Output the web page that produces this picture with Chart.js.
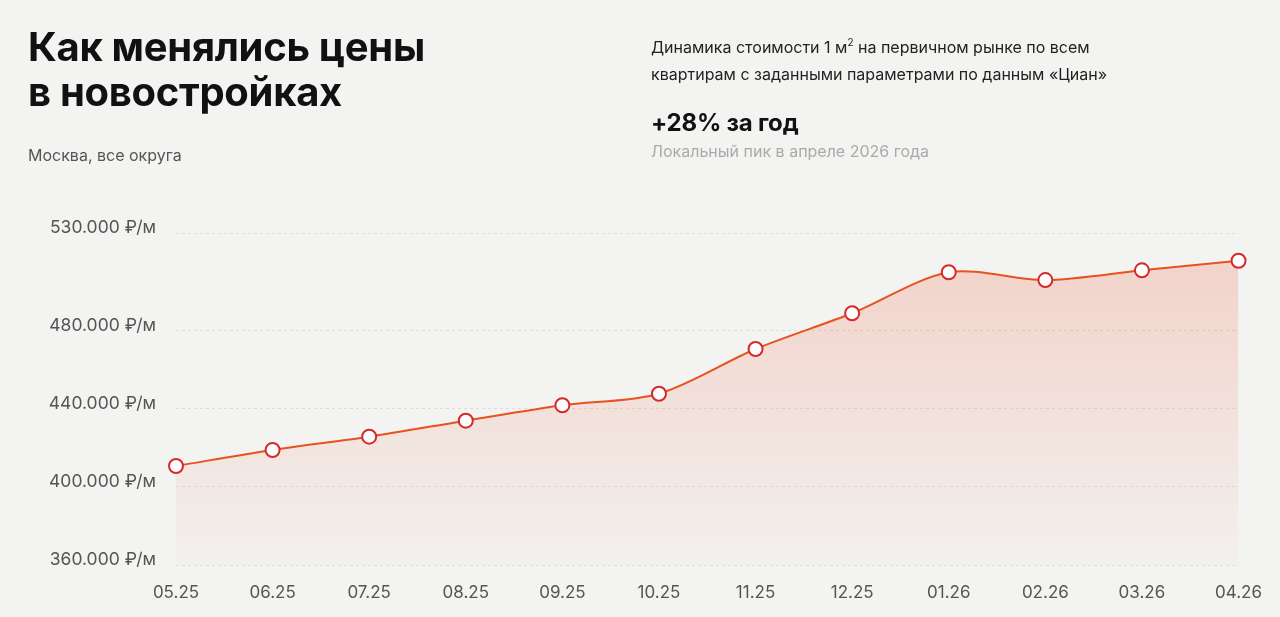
<!DOCTYPE html>
<html lang="ru">
<head>
<meta charset="utf-8">
<script src="https://cdn.jsdelivr.net/npm/chart.js@4.4.1/dist/chart.umd.min.js"></script>
<style>
    html, body { margin: 0; padding: 0; background: #f3f3f1; }
    body { width: 1280px; height: 617px; position: relative; overflow: hidden; font-family: Inter, "Noto Sans", sans-serif; }
    #chart-wrap { position: absolute; left: 0; top: 0; width: 1280px; height: 617px; }
    .title { position: absolute; left: 28px; top: 24px; font-size: 40px; font-weight: 700; line-height: 45px; color: #111; letter-spacing: -0.3px; }
    .region { position: absolute; left: 28px; top: 145px; font-size: 16px; color: #555; }
    .desc { position: absolute; left: 651px; top: 34px; font-size: 16px; line-height: 27px; color: #222; }
    .desc sup { font-size: 10px; vertical-align: 7px; line-height: 0; }
    .growth { position: absolute; left: 651px; top: 108px; font-size: 24px; font-weight: 700; color: #111; letter-spacing: -0.2px; }
    .note { position: absolute; left: 651px; top: 141px; font-size: 16px; color: #aaa; }
</style>
</head>
<body>
<div id="chart-wrap"><canvas id="priceChart"></canvas></div>
<div class="title">Как менялись цены<br>в новостройках</div>
<div class="region">Москва, все округа</div>
<div class="desc">Динамика стоимости 1 м<sup>2</sup> на первичном рынке по всем<br>квартирам с заданными параметрами по данным «Циан»</div>
<div class="growth">+28% за год</div>
<div class="note">Локальный пик в апреле 2026 года</div>

<script>
    // months on the x axis
    const months = ['05.25', '06.25', '07.25', '08.25', '09.25', '10.25', '11.25', '12.25', '01.26', '02.26', '03.26', '04.26'];
    // price per square metre, roubles
    const prices = [410700, 418900, 425700, 433900, 441800, 447700, 470600, 488900, 509900, 505900, 510900, 515800];
    // y axis ticks as drawn in the original
    const yTicks = [360000, 400000, 440000, 480000, 530000];

    const lineColor = '#e8521f';
    const pointColor = '#d42a2a';

    function formatPrice(value) {
        return String(value).replace(/\B(?=(\d{3})+(?!\d))/g, '.') + ' ₽/м';
    }

    const ctx = document.getElementById('priceChart').getContext('2d');
    new Chart(ctx, {
        type: 'line',
        data: {
            labels: months,
            datasets: [{
                data: prices,
                borderColor: lineColor,
                borderWidth: 2,
                tension: 0.3,
                fill: 'start',
                backgroundColor: function(context) {
                    const area = context.chart.chartArea;
                    if (!area) return 'rgba(240, 110, 80, 0.2)';
                    const g = context.chart.ctx.createLinearGradient(0, area.top, 0, area.bottom);
                    g.addColorStop(0, 'rgba(240, 110, 80, 0.26)');
                    g.addColorStop(1, 'rgba(240, 110, 80, 0.02)');
                    return g;
                },
                pointRadius: 7,
                pointBorderWidth: 2,
                pointBackgroundColor: '#ffffff',
                pointBorderColor: pointColor,
                clip: false
            }]
        },
        options: {
            responsive: true,
            maintainAspectRatio: false,
            animation: false,
            layout: { padding: { left: 0, right: 39, top: 233, bottom: 0 } },
            plugins: {
                legend: { display: false },
                tooltip: { enabled: false }
            },
            scales: {
                x: {
                    grid: { display: false, drawTicks: false },
                    border: { display: false },
                    ticks: {
                        color: '#555',
                        padding: 18,
                        maxRotation: 0,
                        font: { family: 'Inter', size: 17 }
                    },
                    afterFit: scale => { scale.height = 52; }
                },
                y: {
                    min: 360000,
                    max: 530000,
                    afterBuildTicks: scale => { scale.ticks = yTicks.map(v => ({ value: v })); },
                    grid: { color: '#dcdcda', lineWidth: 1, drawTicks: false },
                    border: { display: false, dash: [3, 3] },
                    ticks: {
                        color: '#555',
                        padding: 20,
                        labelOffset: -5,
                        font: { family: 'Inter', size: 17.5 },
                        callback: value => formatPrice(value)
                    },
                    afterFit: scale => { scale.width = 176; }
                }
            }
        }
    });
</script>
</body>
</html>
